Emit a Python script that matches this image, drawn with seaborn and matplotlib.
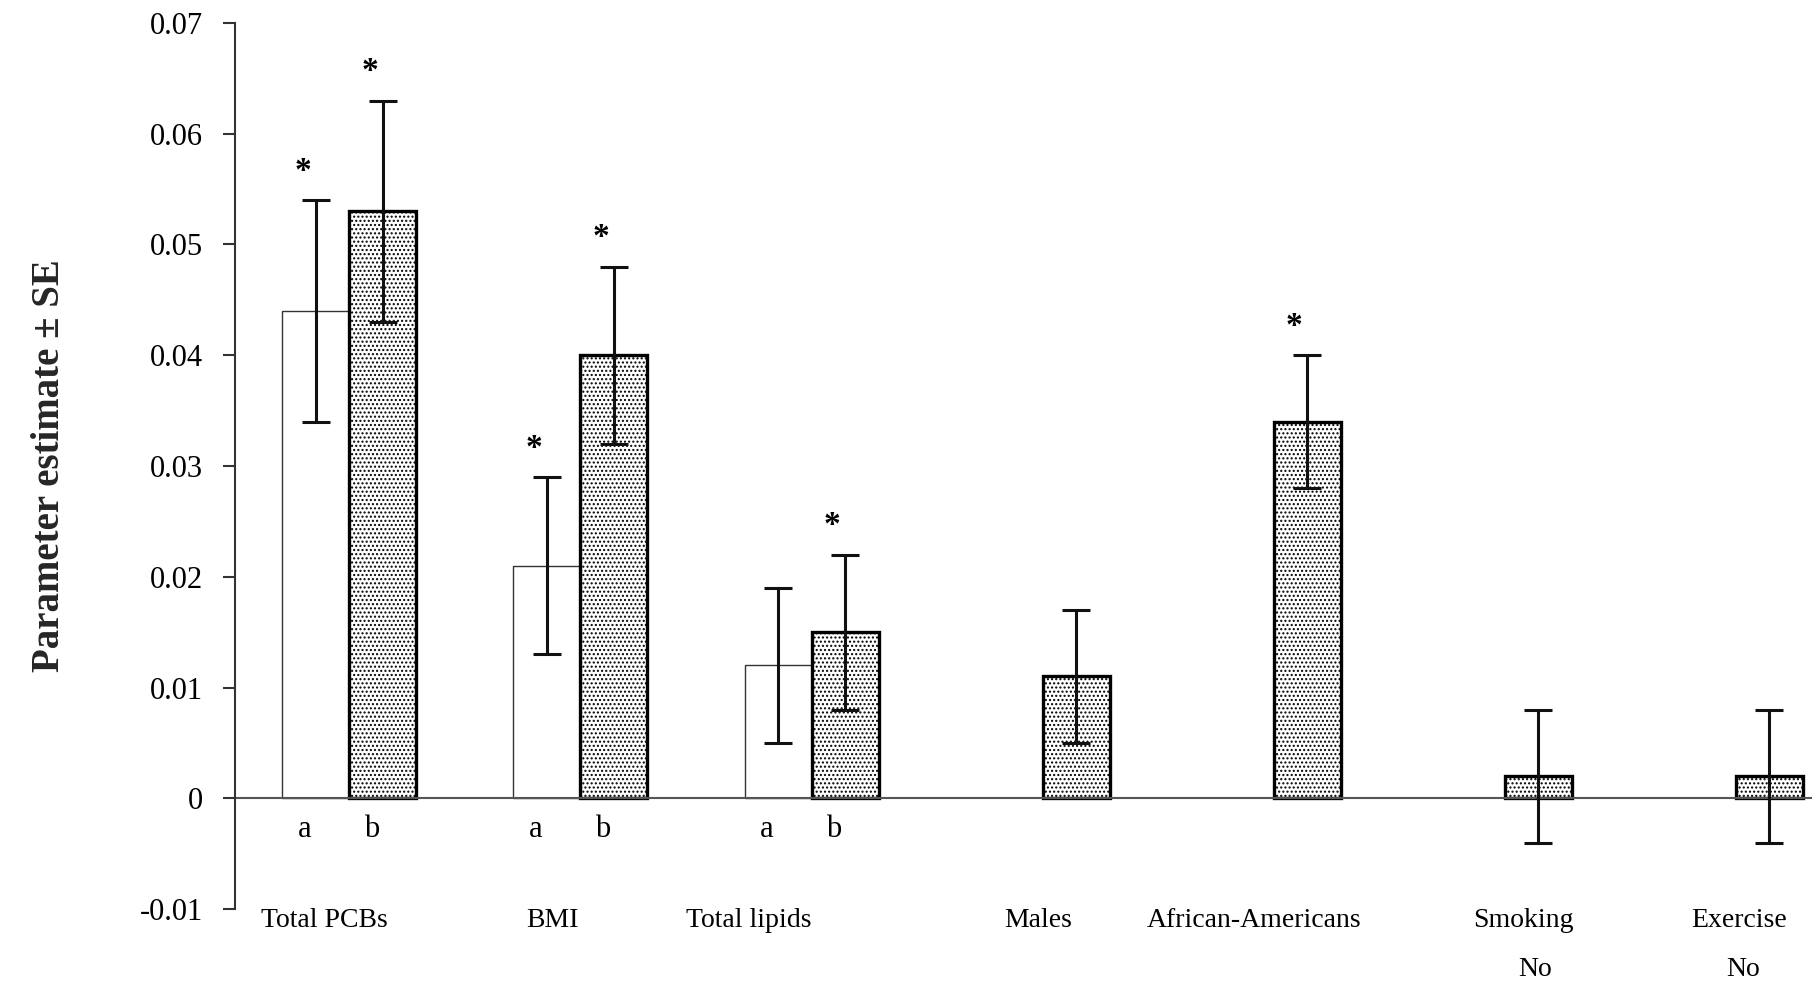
import matplotlib
matplotlib.use("Agg")
import matplotlib.pyplot as plt
import seaborn as sns
import pandas as pd
import numpy as np

# ---- data ----
categories = ["Total PCBs", "BMI", "Total lipids", "Males", "African-Americans", "Smoking", "Exercise"]
sub_labels = ["", "", "", "", "", "No", "No"]
# model a (white bars) – only first three categories
a_categories = ["Total PCBs", "BMI", "Total lipids"]
a_values = [0.044, 0.021, 0.012]
a_se = [0.010, 0.008, 0.007]
a_star = [True, True, False]
# model b (dotted bars)
b_values = [0.053, 0.040, 0.015, 0.011, 0.034, 0.002, 0.002]
b_se = [0.010, 0.008, 0.007, 0.006, 0.006, 0.006, 0.006]
b_star = [True, True, True, False, True, False, False]
yticks = [-0.01, 0.0, 0.01, 0.02, 0.03, 0.04, 0.05, 0.06, 0.07]
ytick_labels = ["-0.01", "0", "0.01", "0.02", "0.03", "0.04", "0.05", "0.06", "0.07"]

df = pd.concat([
    pd.DataFrame({"category": a_categories, "model": "a", "value": a_values, "se": a_se, "star": a_star}),
    pd.DataFrame({"category": categories, "model": "b", "value": b_values, "se": b_se, "star": b_star}),
], ignore_index=True)

# ---- layout ----
sns.set_theme(style="white")
serif = ["Liberation Serif", "DejaVu Serif"]
plt.rcParams["font.family"] = serif
plt.rcParams["hatch.color"] = "black"
plt.rcParams["hatch.linewidth"] = 1.0

fig = plt.figure(figsize=(18.12, 9.82), dpi=100)
ax = fig.add_axes([0.1297, 0.0743, 0.8703, 0.9023])

sns.barplot(data=df, x="category", y="value", hue="model", order=categories,
            hue_order=["a", "b"], palette=["white", "white"], width=0.58,
            dodge=True, errorbar=None, legend=False, ax=ax, saturation=1)

edge_gray = "#333333"
for cont, model in zip(ax.containers, ["a", "b"]):
    sub = df[df["model"] == model].reset_index(drop=True)
    for bar, (_, row) in zip(cont.patches, sub.iterrows()):
        bar.set_facecolor("white")
        if model == "a":
            bar.set_edgecolor(edge_gray)
            bar.set_linewidth(1.0)
        else:
            bar.set_edgecolor("black")
            bar.set_linewidth(2.4)
            bar.set_hatch("....")
        xc = bar.get_x() + bar.get_width() / 2
        ax.errorbar(xc, row["value"], yerr=row["se"], fmt="none", ecolor="#111111",
                    elinewidth=2.2, capsize=10, capthick=2.2, zorder=5)
        if row["star"]:
            ax.text(xc - 0.055, row["value"] + row["se"] + 0.0026, "*", ha="center", va="center",
                    fontsize=24, fontweight="bold", color="black")
        if row["category"] in a_categories:
            ax.text(xc - 0.05, -0.0028, model, ha="center", va="center", fontsize=22, color="black")

# category labels below the axis
label_offsets = [-0.11, -0.12, -0.27, -0.02, -0.085, 0.08, 0.015]
sub_offsets = [0, 0, 0, 0, 0, 0.13, 0.03]
for i, (cat, sl) in enumerate(zip(categories, sub_labels)):
    ax.text(i + label_offsets[i], -0.0110, cat, ha="center", va="center",
            fontsize=20, color="black", clip_on=False)
    if sl:
        ax.text(i + sub_offsets[i], -0.0155, sl, ha="center", va="center",
                fontsize=20, color="black", clip_on=False)

ax.axhline(0, color="#555555", linewidth=1.5, zorder=1)

ax.set_xlim(-0.495, 6.33)
ax.set_ylim(-0.01, 0.07)
ax.set_yticks(yticks)
ax.set_yticklabels(ytick_labels, fontsize=22)
ax.set_xticks([])
ax.set_xlabel("")
ax.set_ylabel("Parameter estimate ± SE", fontsize=28, fontweight="bold", labelpad=52)

for s in ["top", "right", "bottom"]:
    ax.spines[s].set_visible(False)
ax.spines["left"].set_color("#333333")
ax.spines["left"].set_linewidth(1.5)
ax.tick_params(axis="y", direction="out", length=9, width=1.5, color="#333333",
               left=True, pad=14, labelcolor="black")

fig.savefig("out.png", dpi=100)
